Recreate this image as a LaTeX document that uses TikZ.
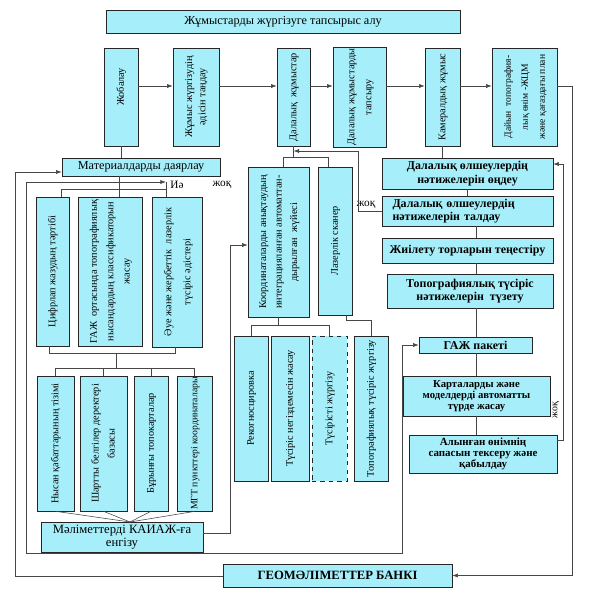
\documentclass[tikz,border=0pt]{standalone}
\usepackage{fontspec}
\setmainfont{Liberation Serif}
\usepackage{graphicx}
\usetikzlibrary{arrows.meta}

\definecolor{boxcyan}{RGB}{166,239,250}
\definecolor{linegray}{RGB}{70,70,70}

\newcommand{\vtxt}[2][1.15]{\rotatebox{90}{\def\arraystretch{#1}\begin{tabular}{@{}c@{}}#2\end{tabular}}}

\tikzset{
  blk/.style={draw=black!85, fill=boxcyan, inner sep=1pt, align=center, font=\fontsize{8.7}{9.5}\selectfont},
  vblk/.style={blk, font=\fontsize{7.3}{9}\selectfont},
  bblk/.style={blk, font=\fontsize{8.5}{9.5}\selectfont\bfseries},
  sz/.style 2 args={minimum width=#1*0.25mm, minimum height=#2*0.25mm},
  conn/.style={draw=linegray, line width=0.4pt},
  arr/.style={conn, -{Latex[length=1.4mm,width=1mm]}},
  lbl/.style={inner sep=0pt, font=\fontsize{8}{8}\selectfont},
}

\begin{document}
\begin{tikzpicture}[x=0.25mm, y=-0.25mm]
    \useasboundingbox (0,0) rectangle (594,593);

    % top row
    \node[blk, sz={354}{23}] (task) at (283,21.5) {Жұмыстарды жүргізуге тапсырыс алу};
    \node[vblk, sz={34}{98}] (jobalau) at (121,97) {\vtxt{\hspace*{5mm}Жобалау}};
    \node[vblk, sz={46}{98}] (adis) at (196,97) {\vtxt[1.05]{Жұмыс жүргізудің\\әдісін таңдау}};
    \node[vblk, sz={33}{98}] (dala) at (293.5,97) {\vtxt{Далалық\ \ жұмыстар}};
    \node[vblk, sz={53}{98}] (tapsyru) at (359.5,97) {\vtxt[1.35]{Далалық жұмыстарды\\тапсыру}};
    \node[vblk, sz={35}{98}] (kameral) at (442.5,97) {\vtxt{Камералдық жұмыс}};
    \node[vblk, sz={65}{98}, font=\fontsize{6.8}{9}\selectfont] (dayin) at (524.5,97) {\vtxt[1.35]{Дайын\ \ топография-\\лық өнім -ЖЦМ\\және қағаздағы план}};

    % left column
    \node[blk, sz={158}{18}] (mat) at (141,167) {Материалдарды даярлау};
    \node[vblk, sz={33}{149}] (cifr) at (52.5,271.5) {\vtxt{Цифрлап жазудың тәртібі}};
    \node[vblk, sz={64}{149}] (gaj) at (110,271.5) {\vtxt[1.3]{ГАЖ\ \ ортасында топографиялық\\нысандардың классификаторын\\жасау}};
    \node[vblk, sz={50}{150}] (aue) at (177,272) {\vtxt[1.5]{Әуе және жербеттік\ \ лазерлік\\түсіріс әдістері}};
    \node[vblk, sz={37}{135}] (nysan) at (55.5,443.5) {\vtxt{Нысан қабаттарының тізімі}};
    \node[vblk, sz={47}{135}] (shartty) at (103.5,443.5) {\vtxt[1.27]{Шартты белгілер деректері\\базасы}};
    \node[vblk, sz={34}{135}] (buryngy) at (151,443.5) {\vtxt{Бұрынғы топокарталар}};
    \node[vblk, sz={35}{135}, font=\fontsize{6.9}{9}\selectfont] (mgt) at (194.5,443.5) {\vtxt{МГТ пункттері координаталары}};
    \node[blk, sz={162}{30}, font=\fontsize{9}{9.5}\selectfont] (enguzu) at (122,537) {Мәліметтерді КАИАЖ-ға\\енгізу};
    \node[bblk, sz={229}{23}, font=\fontsize{9}{9.5}\selectfont\bfseries] (geo) at (337.5,575.5) {ГЕОМӘЛІМЕТТЕР БАНКІ};

    % middle column
    \node[vblk, sz={61}{150}] (koord) at (278.5,242) {\vtxt[1.22]{Координаталарды анықтаудың\\интеграцияланған автоматтан-\\дырылған\ \ жүйесі}};
    \node[vblk, sz={34}{148}] (lazer) at (335,241) {\vtxt{Лазерлік сканер}};
    \node[vblk, sz={34}{145}] (rekog) at (251,408.5) {\vtxt{Рекогносцировка}};
    \node[vblk, sz={38}{145}] (negiz) at (290,408.5) {\vtxt{Түсіріс негіздемесін жасау}};
    \node[vblk, dashed, sz={35}{145}] (zhurg) at (329.5,408.5) {\vtxt{Түсірісті жүргізу}};
    \node[vblk, sz={34}{145}] (topzh) at (371,408.5) {\vtxt{Топографиялық түсіріс жүргізу}};

    % right column
    \node[bblk, sz={171}{31}] (ondeu) at (467.5,173.5) {Далалық өлшеулердің\\нәтижелерін өңдеу};
    \node[bblk, sz={171}{30}, align=left, text width=150*0.25mm] (talday) at (467.5,211) {Далалық өлшеулердің\\нәтижелерін талдау};
    \node[bblk, sz={171}{25}] (zhiil) at (467.5,250.5) {Жиілету торларын теңестіру};
    \node[bblk, sz={166}{34}] (tuzetu) at (470,291) {Топографиялық түсіріс\\нәтижелерін\ \ түзету};
    \node[bblk, sz={113}{16}] (gajp) at (475.5,345) {ГАЖ пакеті};
    \node[bblk, sz={147}{40}, font=\fontsize{7.6}{7.9}\selectfont\bfseries] (kart) at (476.5,396) {Карталарды және\\моделдерді автоматты\\түрде жасау};
    \node[bblk, sz={148}{38}, font=\fontsize{7.8}{7.9}\selectfont\bfseries] (alyn) at (483,454) {Алынған өнімнің\\сапасын тексеру және\\қабылдау};

    % labels
    \node[lbl] (ie) at (177,185) {Иә};
    \node[lbl] (jok1) at (222,185) {жоқ};
    \node[lbl] (jok2) at (366,205) {жоқ};
    \node[lbl, rotate=90, font=\fontsize{7}{7}\selectfont] (jok3) at (556,410) {жоқ};

    % helper points
    \coordinate (rowA) at (0,86);
    \coordinate (rtop) at (572,86);
    \coordinate (ieJ) at (166,182);
    \coordinate (loopTL) at (26,182);
    \coordinate (loopBL) at (26,553);
    \coordinate (loopBR) at (402,553);
    \coordinate (brA) at (61,189);
    \coordinate (matB) at (119,189);
    \coordinate (brB) at (49,353);
    \coordinate (brBr) at (175,353);
    \coordinate (brC) at (116,368);
    \coordinate (engIn) at (130,522);
    \coordinate (kdrop) at (283,157);
    \coordinate (ldrop) at (328,157);
    \coordinate (kbr) at (0,325);
    \coordinate (lbr) at (346,320);
    \coordinate (taldaJ) at (358,211);
    \coordinate (jokY) at (358,151);
    \coordinate (ekJ) at (230,533);
    \coordinate (ekT) at (230,245);
    \coordinate (gL) at (15,576);
    \coordinate (gT) at (15,172);
    \coordinate (rcol) at (476,0);
    \coordinate (aR) at (563,440);
    \coordinate (aT) at (563,164);

    % top row arrows
    \draw[arr] (jobalau.east |- rowA) -- (adis.west |- rowA);
    \draw[arr] (adis.east |- rowA) -- (dala.west |- rowA);
    \draw[arr] (dala.east |- rowA) -- (tapsyru.west |- rowA);
    \draw[arr] (tapsyru.east |- rowA) -- (kameral.west |- rowA);
    \draw[arr] (kameral.east |- rowA) -- (dayin.west |- rowA);
    \draw[arr] (dayin.east |- rowA) -- (rtop) -- (rtop |- geo.east) -- (geo.east);

    % left part
    \draw[conn] (jobalau.south) -- (jobalau.south |- mat.north);
    \draw[conn] (matB |- mat.south) -- (matB |- gaj.north);
    \draw[conn] (brA |- cifr.north) -- (brA) -- (ieJ |- brA);
    \draw[conn] (ieJ) -- (ieJ |- aue.north);
    \draw[conn, {Latex[length=1.4mm,width=1mm]}-{Latex[length=1.4mm,width=1mm]}] (ieJ) -- (loopTL) -- (loopBL) -- (loopBR) -- (loopBR |- gajp.west) -- (gajp.west);
    \draw[conn] (brB |- cifr.south) -- (brB) -- (brBr) -- (brBr |- aue.south);
    \draw[conn] (brC |- brB) -- (brC);
    \draw[conn] (nysan.north) -- (nysan.north |- brC) -- (mgt.north |- brC) -- (mgt.north);
    \draw[conn] (shartty.north) -- (shartty.north |- brC);
    \draw[conn] (buryngy.north) -- (buryngy.north |- brC);
    \draw[conn] (nysan.south) -- (engIn);
    \draw[conn] (shartty.south) -- (engIn);
    \draw[conn] (buryngy.south) -- (engIn);
    \draw[conn] (mgt.south) -- (engIn);
    \draw[arr] (enguzu.east |- ekJ) -- (ekJ) -- (ekT) -- (koord.west |- ekT);
    \draw[arr] (geo.west |- gL) -- (gL) -- (gT) -- (mat.west |- gT);

    % middle part
    \draw[conn] (dala.south) -- (dala.south |- kdrop);
    \draw[conn] (kdrop |- koord.north) -- (kdrop) -- (ldrop) -- (ldrop |- lazer.north);
    \draw[conn] (koord.south) -- (koord.south |- kbr);
    \draw[conn] (rekog.north) -- (rekog.north |- kbr) -- (zhurg.north |- kbr) -- (zhurg.north);
    \draw[conn] (lbr |- lazer.south) -- (lbr) -- (topzh.north |- lbr) -- (topzh.north);

    % right part
    \draw[conn] (kameral.south) -- (kameral.south |- ondeu.north);
    \draw[conn] (ondeu.south) -- (ondeu.south |- talday.north);
    \draw[conn] (rcol |- talday.south) -- (rcol |- zhiil.north);
    \draw[conn] (rcol |- zhiil.south) -- (rcol |- tuzetu.north);
    \draw[conn] (rcol |- tuzetu.south) -- (rcol |- gajp.north);
    \draw[conn] (rcol |- gajp.south) -- (rcol |- kart.north);
    \draw[conn] (rcol |- kart.south) -- (rcol |- alyn.north);
    \draw[arr] (talday.west |- taldaJ) -- (taldaJ) -- (jokY) -- (dala.south |- jokY);
    \draw[arr] (alyn.east |- aR) -- (aR) -- (aT) -- (ondeu.east |- aT);
\end{tikzpicture}
\end{document}
